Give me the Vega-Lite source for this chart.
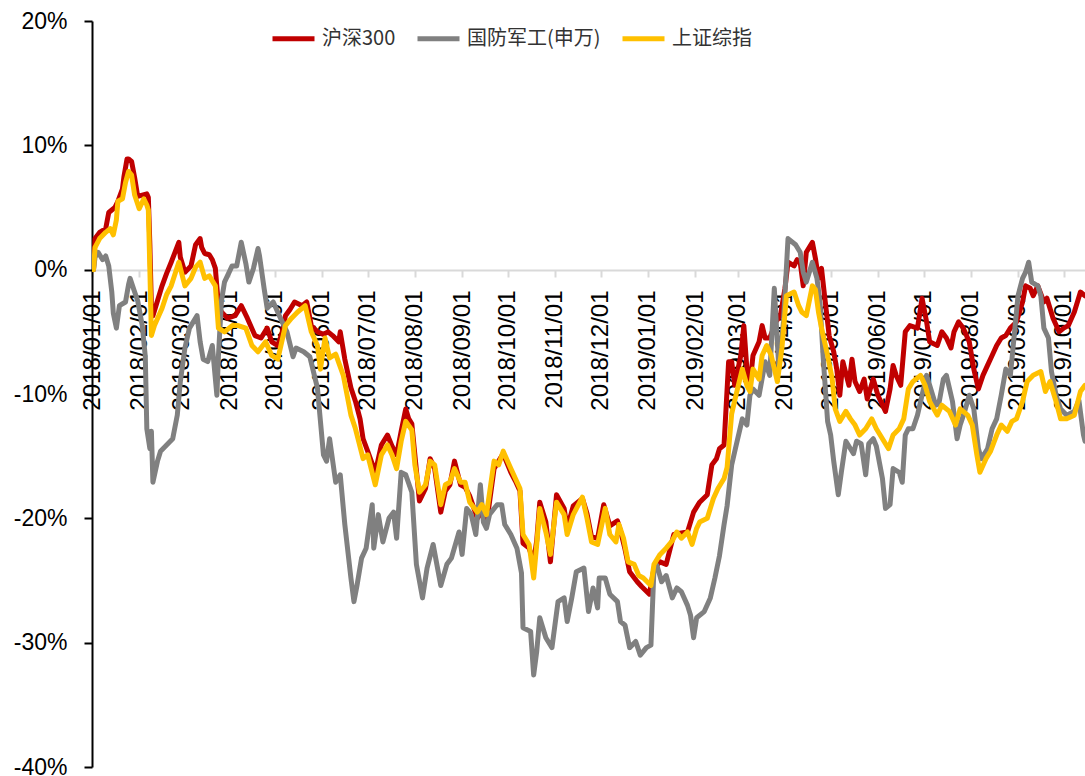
{
"$schema":"https://vega.github.io/schema/vega-lite/v6.json",
"width":993,"height":746,
"autosize":{"type":"none"},
"padding":{"left":92,"top":21,"right":0,"bottom":9},
"background":"white",
"config":{"view":{"stroke":null},"font":"Liberation Sans"},
"data":{"values":[
{"s":"沪深300","d":"2018-01-02","v":0},{"s":"沪深300","d":"2018-01-03","v":2.5},{"s":"沪深300","d":"2018-01-06","v":3.0},{"s":"沪深300","d":"2018-01-10","v":3.3},{"s":"沪深300","d":"2018-01-12","v":4.6},{"s":"沪深300","d":"2018-01-14","v":4.8},{"s":"沪深300","d":"2018-01-16","v":5.0},{"s":"沪深300","d":"2018-01-18","v":5.5},{"s":"沪深300","d":"2018-01-21","v":6.5},{"s":"沪深300","d":"2018-01-22","v":7.5},{"s":"沪深300","d":"2018-01-24","v":8.9},{"s":"沪深300","d":"2018-01-25","v":8.9},{"s":"沪深300","d":"2018-01-27","v":8.7},{"s":"沪深300","d":"2018-01-29","v":7.4},{"s":"沪深300","d":"2018-01-31","v":5.9},{"s":"沪深300","d":"2018-02-03","v":6.0},{"s":"沪深300","d":"2018-02-06","v":6.1},{"s":"沪深300","d":"2018-02-07","v":5.8},{"s":"沪深300","d":"2018-02-08","v":2.0},{"s":"沪深300","d":"2018-02-09","v":-3.0},{"s":"沪深300","d":"2018-02-10","v":-3.7},{"s":"沪深300","d":"2018-02-16","v":-1.3},{"s":"沪深300","d":"2018-02-19","v":-0.3},{"s":"沪深300","d":"2018-02-22","v":0.6},{"s":"沪深300","d":"2018-02-27","v":2.2},{"s":"沪深300","d":"2018-02-28","v":1.0},{"s":"沪深300","d":"2018-03-03","v":-0.2},{"s":"沪深300","d":"2018-03-07","v":0.3},{"s":"沪深300","d":"2018-03-10","v":2.0},{"s":"沪深300","d":"2018-03-13","v":2.5},{"s":"沪深300","d":"2018-03-14","v":1.8},{"s":"沪深300","d":"2018-03-16","v":1.3},{"s":"沪深300","d":"2018-03-19","v":1.2},{"s":"沪深300","d":"2018-03-21","v":0.8},{"s":"沪深300","d":"2018-03-23","v":0.1},{"s":"沪深300","d":"2018-03-25","v":-2.9},{"s":"沪深300","d":"2018-03-27","v":-3.4},{"s":"沪深300","d":"2018-03-31","v":-3.9},{"s":"沪深300","d":"2018-04-05","v":-3.7},{"s":"沪深300","d":"2018-04-09","v":-2.9},{"s":"沪深300","d":"2018-04-13","v":-3.9},{"s":"沪深300","d":"2018-04-18","v":-5.3},{"s":"沪深300","d":"2018-04-22","v":-5.5},{"s":"沪深300","d":"2018-04-26","v":-4.7},{"s":"沪深300","d":"2018-04-29","v":-5.8},{"s":"沪深300","d":"2018-05-03","v":-6.1},{"s":"沪深300","d":"2018-05-06","v":-5.0},{"s":"沪深300","d":"2018-05-08","v":-3.7},{"s":"沪深300","d":"2018-05-11","v":-3.2},{"s":"沪深300","d":"2018-05-14","v":-2.6},{"s":"沪深300","d":"2018-05-19","v":-2.9},{"s":"沪深300","d":"2018-05-22","v":-2.6},{"s":"沪深300","d":"2018-05-25","v":-4.5},{"s":"沪深300","d":"2018-05-29","v":-5.0},{"s":"沪深300","d":"2018-06-02","v":-5.2},{"s":"沪深300","d":"2018-06-05","v":-5.0},{"s":"沪深300","d":"2018-06-08","v":-5.3},{"s":"沪深300","d":"2018-06-12","v":-5.8},{"s":"沪深300","d":"2018-06-13","v":-5.0},{"s":"沪深300","d":"2018-06-16","v":-7.2},{"s":"沪深300","d":"2018-06-20","v":-9.5},{"s":"沪深300","d":"2018-06-23","v":-10.6},{"s":"沪深300","d":"2018-06-26","v":-12.0},{"s":"沪深300","d":"2018-06-28","v":-13.6},{"s":"沪深300","d":"2018-07-01","v":-14.6},{"s":"沪深300","d":"2018-07-06","v":-16.3},{"s":"沪深300","d":"2018-07-10","v":-14.1},{"s":"沪深300","d":"2018-07-14","v":-13.3},{"s":"沪深300","d":"2018-07-17","v":-14.2},{"s":"沪深300","d":"2018-07-20","v":-14.9},{"s":"沪深300","d":"2018-07-23","v":-13.0},{"s":"沪深300","d":"2018-07-26","v":-11.2},{"s":"沪深300","d":"2018-07-28","v":-12.0},{"s":"沪深300","d":"2018-07-30","v":-12.4},{"s":"沪深300","d":"2018-08-01","v":-14.9},{"s":"沪深300","d":"2018-08-04","v":-18.6},{"s":"沪深300","d":"2018-08-08","v":-17.6},{"s":"沪深300","d":"2018-08-11","v":-15.2},{"s":"沪深300","d":"2018-08-14","v":-16.0},{"s":"沪深300","d":"2018-08-18","v":-19.5},{"s":"沪深300","d":"2018-08-21","v":-17.8},{"s":"沪深300","d":"2018-08-24","v":-17.3},{"s":"沪深300","d":"2018-08-27","v":-15.4},{"s":"沪深300","d":"2018-08-31","v":-17.3},{"s":"沪深300","d":"2018-09-03","v":-17.5},{"s":"沪深300","d":"2018-09-06","v":-18.2},{"s":"沪深300","d":"2018-09-11","v":-20.0},{"s":"沪深300","d":"2018-09-14","v":-19.5},{"s":"沪深300","d":"2018-09-17","v":-20.5},{"s":"沪深300","d":"2018-09-22","v":-16.0},{"s":"沪深300","d":"2018-09-25","v":-15.4},{"s":"沪深300","d":"2018-09-28","v":-14.8},{"s":"沪深300","d":"2018-10-03","v":-16.3},{"s":"沪深300","d":"2018-10-06","v":-17.0},{"s":"沪深300","d":"2018-10-09","v":-17.8},{"s":"沪深300","d":"2018-10-11","v":-22.0},{"s":"沪深300","d":"2018-10-15","v":-22.4},{"s":"沪深300","d":"2018-10-18","v":-23.5},{"s":"沪深300","d":"2018-10-20","v":-21.8},{"s":"沪深300","d":"2018-10-22","v":-18.7},{"s":"沪深300","d":"2018-10-26","v":-20.3},{"s":"沪深300","d":"2018-10-29","v":-23.5},{"s":"沪深300","d":"2018-11-02","v":-18.1},{"s":"沪深300","d":"2018-11-07","v":-19.2},{"s":"沪深300","d":"2018-11-09","v":-20.8},{"s":"沪深300","d":"2018-11-13","v":-19.0},{"s":"沪深300","d":"2018-11-19","v":-18.4},{"s":"沪深300","d":"2018-11-22","v":-19.6},{"s":"沪深300","d":"2018-11-25","v":-21.5},{"s":"沪深300","d":"2018-11-29","v":-21.6},{"s":"沪深300","d":"2018-12-03","v":-18.9},{"s":"沪深300","d":"2018-12-07","v":-20.6},{"s":"沪深300","d":"2018-12-12","v":-20.2},{"s":"沪深300","d":"2018-12-14","v":-21.0},{"s":"沪深300","d":"2018-12-17","v":-22.5},{"s":"沪深300","d":"2018-12-20","v":-24.3},{"s":"沪深300","d":"2018-12-25","v":-25.1},{"s":"沪深300","d":"2018-12-28","v":-25.5},{"s":"沪深300","d":"2019-01-02","v":-26.1},{"s":"沪深300","d":"2019-01-05","v":-24.0},{"s":"沪深300","d":"2019-01-09","v":-23.5},{"s":"沪深300","d":"2019-01-13","v":-23.7},{"s":"沪深300","d":"2019-01-18","v":-21.3},{"s":"沪深300","d":"2019-01-22","v":-21.2},{"s":"沪深300","d":"2019-01-27","v":-21.1},{"s":"沪深300","d":"2019-01-31","v":-19.5},{"s":"沪深300","d":"2019-02-04","v":-18.7},{"s":"沪深300","d":"2019-02-09","v":-18.1},{"s":"沪深300","d":"2019-02-12","v":-15.7},{"s":"沪深300","d":"2019-02-15","v":-15.2},{"s":"沪深300","d":"2019-02-17","v":-14.4},{"s":"沪深300","d":"2019-02-20","v":-14.1},{"s":"沪深300","d":"2019-02-23","v":-7.4},{"s":"沪深300","d":"2019-02-25","v":-7.4},{"s":"沪深300","d":"2019-02-27","v":-9.3},{"s":"沪深300","d":"2019-03-03","v":-6.9},{"s":"沪深300","d":"2019-03-05","v":-4.5},{"s":"沪深300","d":"2019-03-07","v":-8.0},{"s":"沪深300","d":"2019-03-09","v":-9.3},{"s":"沪深300","d":"2019-03-11","v":-6.9},{"s":"沪深300","d":"2019-03-15","v":-5.8},{"s":"沪深300","d":"2019-03-17","v":-4.5},{"s":"沪深300","d":"2019-03-19","v":-5.5},{"s":"沪深300","d":"2019-03-22","v":-5.5},{"s":"沪深300","d":"2019-03-26","v":-4.2},{"s":"沪深300","d":"2019-03-29","v":-3.7},{"s":"沪深300","d":"2019-04-01","v":-1.5},{"s":"沪深300","d":"2019-04-03","v":0.6},{"s":"沪深300","d":"2019-04-07","v":0.3},{"s":"沪深300","d":"2019-04-09","v":0.8},{"s":"沪深300","d":"2019-04-11","v":0.6},{"s":"沪深300","d":"2019-04-13","v":-1.3},{"s":"沪深300","d":"2019-04-15","v":1.4},{"s":"沪深300","d":"2019-04-19","v":2.2},{"s":"沪深300","d":"2019-04-21","v":0.9},{"s":"沪深300","d":"2019-04-23","v":-0.7},{"s":"沪深300","d":"2019-04-25","v":0.1},{"s":"沪深300","d":"2019-04-27","v":-2.1},{"s":"沪深300","d":"2019-04-30","v":-5.3},{"s":"沪深300","d":"2019-05-03","v":-6.6},{"s":"沪深300","d":"2019-05-05","v":-8.0},{"s":"沪深300","d":"2019-05-07","v":-10.1},{"s":"沪深300","d":"2019-05-09","v":-7.4},{"s":"沪深300","d":"2019-05-13","v":-9.3},{"s":"沪深300","d":"2019-05-15","v":-7.2},{"s":"沪深300","d":"2019-05-17","v":-9.0},{"s":"沪深300","d":"2019-05-20","v":-9.8},{"s":"沪深300","d":"2019-05-23","v":-8.8},{"s":"沪深300","d":"2019-05-25","v":-10.4},{"s":"沪深300","d":"2019-05-29","v":-8.8},{"s":"沪深300","d":"2019-06-01","v":-10.1},{"s":"沪深300","d":"2019-06-06","v":-11.4},{"s":"沪深300","d":"2019-06-09","v":-9.6},{"s":"沪深300","d":"2019-06-11","v":-7.7},{"s":"沪深300","d":"2019-06-13","v":-8.5},{"s":"沪深300","d":"2019-06-16","v":-9.3},{"s":"沪深300","d":"2019-06-19","v":-5.0},{"s":"沪深300","d":"2019-06-22","v":-4.5},{"s":"沪深300","d":"2019-06-27","v":-4.7},{"s":"沪深300","d":"2019-06-30","v":-2.3},{"s":"沪深300","d":"2019-07-03","v":-4.2},{"s":"沪深300","d":"2019-07-05","v":-5.8},{"s":"沪深300","d":"2019-07-10","v":-6.1},{"s":"沪深300","d":"2019-07-13","v":-5.0},{"s":"沪深300","d":"2019-07-16","v":-5.5},{"s":"沪深300","d":"2019-07-19","v":-6.3},{"s":"沪深300","d":"2019-07-21","v":-5.0},{"s":"沪深300","d":"2019-07-24","v":-4.2},{"s":"沪深300","d":"2019-07-27","v":-4.7},{"s":"沪深300","d":"2019-07-31","v":-5.8},{"s":"沪深300","d":"2019-08-03","v":-8.0},{"s":"沪深300","d":"2019-08-06","v":-9.6},{"s":"沪深300","d":"2019-08-09","v":-8.5},{"s":"沪深300","d":"2019-08-12","v":-7.7},{"s":"沪深300","d":"2019-08-15","v":-6.9},{"s":"沪深300","d":"2019-08-18","v":-6.1},{"s":"沪深300","d":"2019-08-21","v":-5.5},{"s":"沪深300","d":"2019-08-24","v":-5.3},{"s":"沪深300","d":"2019-08-27","v":-4.7},{"s":"沪深300","d":"2019-08-31","v":-4.2},{"s":"沪深300","d":"2019-09-04","v":-2.6},{"s":"沪深300","d":"2019-09-06","v":-1.3},{"s":"沪深300","d":"2019-09-09","v":-1.5},{"s":"沪深300","d":"2019-09-11","v":-2.1},{"s":"沪深300","d":"2019-09-14","v":-1.3},{"s":"沪深300","d":"2019-09-18","v":-2.6},{"s":"沪深300","d":"2019-09-20","v":-2.3},{"s":"沪深300","d":"2019-09-24","v":-3.9},{"s":"沪深300","d":"2019-09-28","v":-5.0},{"s":"沪深300","d":"2019-10-01","v":-4.7},{"s":"沪深300","d":"2019-10-04","v":-4.5},{"s":"沪深300","d":"2019-10-08","v":-3.4},{"s":"沪深300","d":"2019-10-12","v":-1.8},{"s":"沪深300","d":"2019-10-15","v":-2.1},
{"s":"国防军工(申万)","d":"2018-01-02","v":0},{"s":"国防军工(申万)","d":"2018-01-03","v":1.0},{"s":"国防军工(申万)","d":"2018-01-05","v":1.4},{"s":"国防军工(申万)","d":"2018-01-08","v":0.8},{"s":"国防军工(申万)","d":"2018-01-10","v":1.1},{"s":"国防军工(申万)","d":"2018-01-12","v":0.3},{"s":"国防军工(申万)","d":"2018-01-14","v":-1.8},{"s":"国防军工(申万)","d":"2018-01-15","v":-3.5},{"s":"国防军工(申万)","d":"2018-01-17","v":-4.7},{"s":"国防军工(申万)","d":"2018-01-19","v":-2.9},{"s":"国防军工(申万)","d":"2018-01-23","v":-2.6},{"s":"国防军工(申万)","d":"2018-01-25","v":-1.2},{"s":"国防军工(申万)","d":"2018-01-26","v":-0.7},{"s":"国防军工(申万)","d":"2018-01-29","v":-1.8},{"s":"国防军工(申万)","d":"2018-01-31","v":-2.5},{"s":"国防军工(申万)","d":"2018-02-03","v":-4.5},{"s":"国防军工(申万)","d":"2018-02-05","v":-7.0},{"s":"国防军工(申万)","d":"2018-02-06","v":-12.8},{"s":"国防军工(申万)","d":"2018-02-08","v":-14.4},{"s":"国防军工(申万)","d":"2018-02-09","v":-13.0},{"s":"国防军工(申万)","d":"2018-02-10","v":-17.1},{"s":"国防军工(申万)","d":"2018-02-13","v":-15.4},{"s":"国防军工(申万)","d":"2018-02-15","v":-14.6},{"s":"国防军工(申万)","d":"2018-02-19","v":-14.1},{"s":"国防军工(申万)","d":"2018-02-23","v":-13.6},{"s":"国防军工(申万)","d":"2018-02-26","v":-11.7},{"s":"国防军工(申万)","d":"2018-02-28","v":-9.0},{"s":"国防军工(申万)","d":"2018-03-03","v":-6.3},{"s":"国防军工(申万)","d":"2018-03-06","v":-4.7},{"s":"国防军工(申万)","d":"2018-03-11","v":-3.7},{"s":"国防军工(申万)","d":"2018-03-13","v":-5.8},{"s":"国防军工(申万)","d":"2018-03-15","v":-7.2},{"s":"国防军工(申万)","d":"2018-03-18","v":-7.4},{"s":"国防军工(申万)","d":"2018-03-21","v":-6.1},{"s":"国防军工(申万)","d":"2018-03-24","v":-10.1},{"s":"国防军工(申万)","d":"2018-03-25","v":-7.0},{"s":"国防军工(申万)","d":"2018-03-27","v":-2.5},{"s":"国防军工(申万)","d":"2018-03-29","v":-1.0},{"s":"国防军工(申万)","d":"2018-04-03","v":0.3},{"s":"国防军工(申万)","d":"2018-04-06","v":0.3},{"s":"国防军工(申万)","d":"2018-04-09","v":2.2},{"s":"国防军工(申万)","d":"2018-04-12","v":0.5},{"s":"国防军工(申万)","d":"2018-04-14","v":-1.0},{"s":"国防军工(申万)","d":"2018-04-17","v":0.1},{"s":"国防军工(申万)","d":"2018-04-20","v":1.7},{"s":"国防军工(申万)","d":"2018-04-21","v":1.1},{"s":"国防军工(申万)","d":"2018-04-24","v":-1.5},{"s":"国防军工(申万)","d":"2018-04-26","v":-3.1},{"s":"国防军工(申万)","d":"2018-04-30","v":-2.6},{"s":"国防军工(申万)","d":"2018-05-04","v":-3.7},{"s":"国防军工(申万)","d":"2018-05-09","v":-5.0},{"s":"国防军工(申万)","d":"2018-05-13","v":-7.0},{"s":"国防军工(申万)","d":"2018-05-15","v":-6.3},{"s":"国防军工(申万)","d":"2018-05-20","v":-6.6},{"s":"国防军工(申万)","d":"2018-05-24","v":-7.0},{"s":"国防军工(申万)","d":"2018-05-29","v":-9.5},{"s":"国防军工(申万)","d":"2018-05-31","v":-12.2},{"s":"国防军工(申万)","d":"2018-06-02","v":-14.9},{"s":"国防军工(申万)","d":"2018-06-04","v":-15.4},{"s":"国防军工(申万)","d":"2018-06-06","v":-13.6},{"s":"国防军工(申万)","d":"2018-06-10","v":-17.1},{"s":"国防军工(申万)","d":"2018-06-13","v":-16.5},{"s":"国防军工(申万)","d":"2018-06-16","v":-20.5},{"s":"国防军工(申万)","d":"2018-06-20","v":-24.8},{"s":"国防军工(申万)","d":"2018-06-22","v":-26.7},{"s":"国防军工(申万)","d":"2018-06-24","v":-25.4},{"s":"国防军工(申万)","d":"2018-06-27","v":-23.2},{"s":"国防军工(申万)","d":"2018-06-30","v":-22.4},{"s":"国防军工(申万)","d":"2018-07-04","v":-18.9},{"s":"国防军工(申万)","d":"2018-07-05","v":-22.4},{"s":"国防军工(申万)","d":"2018-07-08","v":-19.7},{"s":"国防军工(申万)","d":"2018-07-11","v":-21.9},{"s":"国防军工(申万)","d":"2018-07-15","v":-20.0},{"s":"国防军工(申万)","d":"2018-07-18","v":-19.5},{"s":"国防军工(申万)","d":"2018-07-20","v":-21.6},{"s":"国防军工(申万)","d":"2018-07-23","v":-16.3},{"s":"国防军工(申万)","d":"2018-07-26","v":-16.5},{"s":"国防军工(申万)","d":"2018-07-30","v":-17.9},{"s":"国防军工(申万)","d":"2018-08-02","v":-23.7},{"s":"国防军工(申万)","d":"2018-08-06","v":-26.4},{"s":"国防军工(申万)","d":"2018-08-09","v":-24.0},{"s":"国防军工(申万)","d":"2018-08-13","v":-22.1},{"s":"国防军工(申万)","d":"2018-08-18","v":-25.4},{"s":"国防军工(申万)","d":"2018-08-22","v":-23.7},{"s":"国防军工(申万)","d":"2018-08-25","v":-23.2},{"s":"国防军工(申万)","d":"2018-08-30","v":-21.1},{"s":"国防军工(申万)","d":"2018-09-01","v":-22.9},{"s":"国防军工(申万)","d":"2018-09-04","v":-19.2},{"s":"国防军工(申万)","d":"2018-09-07","v":-19.7},{"s":"国防军工(申万)","d":"2018-09-10","v":-21.3},{"s":"国防军工(申万)","d":"2018-09-13","v":-17.3},{"s":"国防军工(申万)","d":"2018-09-15","v":-20.3},{"s":"国防军工(申万)","d":"2018-09-17","v":-20.8},{"s":"国防军工(申万)","d":"2018-09-19","v":-19.7},{"s":"国防军工(申万)","d":"2018-09-24","v":-18.9},{"s":"国防军工(申万)","d":"2018-09-27","v":-18.9},{"s":"国防军工(申万)","d":"2018-09-29","v":-20.5},{"s":"国防军工(申万)","d":"2018-10-03","v":-21.3},{"s":"国防军工(申万)","d":"2018-10-07","v":-22.4},{"s":"国防军工(申万)","d":"2018-10-10","v":-24.4},{"s":"国防军工(申万)","d":"2018-10-11","v":-28.8},{"s":"国防军工(申万)","d":"2018-10-16","v":-29.1},{"s":"国防军工(申万)","d":"2018-10-18","v":-32.6},{"s":"国防军工(申万)","d":"2018-10-20","v":-30.7},{"s":"国防军工(申万)","d":"2018-10-22","v":-28.0},{"s":"国防军工(申万)","d":"2018-10-26","v":-29.6},{"s":"国防军工(申万)","d":"2018-10-30","v":-30.4},{"s":"国防军工(申万)","d":"2018-11-03","v":-26.7},{"s":"国防军工(申万)","d":"2018-11-07","v":-26.4},{"s":"国防军工(申万)","d":"2018-11-09","v":-28.3},{"s":"国防军工(申万)","d":"2018-11-12","v":-26.4},{"s":"国防军工(申万)","d":"2018-11-15","v":-24.3},{"s":"国防军工(申万)","d":"2018-11-20","v":-24.0},{"s":"国防军工(申万)","d":"2018-11-23","v":-27.5},{"s":"国防军工(申万)","d":"2018-11-26","v":-25.6},{"s":"国防军工(申万)","d":"2018-11-29","v":-27.2},{"s":"国防军工(申万)","d":"2018-11-30","v":-24.8},{"s":"国防军工(申万)","d":"2018-12-04","v":-24.8},{"s":"国防军工(申万)","d":"2018-12-07","v":-26.1},{"s":"国防军工(申万)","d":"2018-12-12","v":-26.7},{"s":"国防军工(申万)","d":"2018-12-14","v":-28.3},{"s":"国防军工(申万)","d":"2018-12-17","v":-28.6},{"s":"国防军工(申万)","d":"2018-12-20","v":-30.4},{"s":"国防军工(申万)","d":"2018-12-24","v":-29.9},{"s":"国防军工(申万)","d":"2018-12-27","v":-31.0},{"s":"国防军工(申万)","d":"2018-12-31","v":-30.4},{"s":"国防军工(申万)","d":"2019-01-03","v":-30.2},{"s":"国防军工(申万)","d":"2019-01-05","v":-24.0},{"s":"国防军工(申万)","d":"2019-01-07","v":-23.8},{"s":"国防军工(申万)","d":"2019-01-10","v":-25.1},{"s":"国防军工(申万)","d":"2019-01-13","v":-24.6},{"s":"国防军工(申万)","d":"2019-01-17","v":-26.4},{"s":"国防军工(申万)","d":"2019-01-20","v":-25.6},{"s":"国防军工(申万)","d":"2019-01-23","v":-25.9},{"s":"国防军工(申万)","d":"2019-01-27","v":-27.0},{"s":"国防军工(申万)","d":"2019-01-29","v":-27.8},{"s":"国防军工(申万)","d":"2019-01-31","v":-29.6},{"s":"国防军工(申万)","d":"2019-02-02","v":-28.0},{"s":"国防军工(申万)","d":"2019-02-07","v":-27.5},{"s":"国防军工(申万)","d":"2019-02-11","v":-26.4},{"s":"国防军工(申万)","d":"2019-02-14","v":-24.8},{"s":"国防军工(申万)","d":"2019-02-17","v":-23.0},{"s":"国防军工(申万)","d":"2019-02-20","v":-20.5},{"s":"国防军工(申万)","d":"2019-02-22","v":-19.0},{"s":"国防军工(申万)","d":"2019-02-25","v":-15.7},{"s":"国防军工(申万)","d":"2019-02-28","v":-14.1},{"s":"国防军工(申万)","d":"2019-03-04","v":-12.0},{"s":"国防军工(申万)","d":"2019-03-07","v":-12.5},{"s":"国防军工(申万)","d":"2019-03-09","v":-10.1},{"s":"国防军工(申万)","d":"2019-03-11","v":-9.6},{"s":"国防军工(申万)","d":"2019-03-15","v":-10.1},{"s":"国防军工(申万)","d":"2019-03-19","v":-7.4},{"s":"国防军工(申万)","d":"2019-03-22","v":-8.5},{"s":"国防军工(申万)","d":"2019-03-25","v":-1.5},{"s":"国防军工(申万)","d":"2019-03-28","v":-8.0},{"s":"国防军工(申万)","d":"2019-03-31","v":-4.2},{"s":"国防军工(申万)","d":"2019-04-03","v":2.5},{"s":"国防军工(申万)","d":"2019-04-08","v":2.0},{"s":"国防军工(申万)","d":"2019-04-11","v":1.4},{"s":"国防军工(申万)","d":"2019-04-13","v":-0.2},{"s":"国防军工(申万)","d":"2019-04-15","v":-1.0},{"s":"国防军工(申万)","d":"2019-04-19","v":0.6},{"s":"国防军工(申万)","d":"2019-04-22","v":-0.7},{"s":"国防军工(申万)","d":"2019-04-24","v":-2.6},{"s":"国防军工(申万)","d":"2019-04-26","v":-6.9},{"s":"国防军工(申万)","d":"2019-04-29","v":-12.2},{"s":"国防军工(申万)","d":"2019-05-01","v":-13.3},{"s":"国防军工(申万)","d":"2019-05-03","v":-15.4},{"s":"国防军工(申万)","d":"2019-05-06","v":-18.1},{"s":"国防军工(申万)","d":"2019-05-08","v":-16.3},{"s":"国防军工(申万)","d":"2019-05-11","v":-13.8},{"s":"国防军工(申万)","d":"2019-05-14","v":-14.4},{"s":"国防军工(申万)","d":"2019-05-16","v":-14.8},{"s":"国防军工(申万)","d":"2019-05-18","v":-13.8},{"s":"国防军工(申万)","d":"2019-05-21","v":-14.0},{"s":"国防军工(申万)","d":"2019-05-24","v":-16.5},{"s":"国防军工(申万)","d":"2019-05-26","v":-14.0},{"s":"国防军工(申万)","d":"2019-05-29","v":-13.6},{"s":"国防军工(申万)","d":"2019-05-31","v":-14.2},{"s":"国防军工(申万)","d":"2019-06-04","v":-16.8},{"s":"国防军工(申万)","d":"2019-06-06","v":-19.2},{"s":"国防军工(申万)","d":"2019-06-09","v":-18.9},{"s":"国防军工(申万)","d":"2019-06-11","v":-16.0},{"s":"国防军工(申万)","d":"2019-06-15","v":-16.3},{"s":"国防军工(申万)","d":"2019-06-17","v":-17.1},{"s":"国防军工(申万)","d":"2019-06-19","v":-13.3},{"s":"国防军工(申万)","d":"2019-06-21","v":-12.8},{"s":"国防军工(申万)","d":"2019-06-24","v":-12.8},{"s":"国防军工(申万)","d":"2019-06-27","v":-11.7},{"s":"国防军工(申万)","d":"2019-06-30","v":-10.1},{"s":"国防军工(申万)","d":"2019-07-03","v":-8.5},{"s":"国防军工(申万)","d":"2019-07-05","v":-9.3},{"s":"国防军工(申万)","d":"2019-07-09","v":-10.9},{"s":"国防军工(申万)","d":"2019-07-11","v":-10.8},{"s":"国防军工(申万)","d":"2019-07-14","v":-8.8},{"s":"国防军工(申万)","d":"2019-07-16","v":-8.5},{"s":"国防军工(申万)","d":"2019-07-20","v":-10.6},{"s":"国防军工(申万)","d":"2019-07-23","v":-13.6},{"s":"国防军工(申万)","d":"2019-07-25","v":-12.5},{"s":"国防军工(申万)","d":"2019-07-28","v":-11.4},{"s":"国防军工(申万)","d":"2019-07-31","v":-10.1},{"s":"国防军工(申万)","d":"2019-08-03","v":-11.2},{"s":"国防军工(申万)","d":"2019-08-06","v":-14.4},{"s":"国防军工(申万)","d":"2019-08-08","v":-15.2},{"s":"国防军工(申万)","d":"2019-08-12","v":-14.4},{"s":"国防军工(申万)","d":"2019-08-15","v":-12.8},{"s":"国防军工(申万)","d":"2019-08-18","v":-12.0},{"s":"国防军工(申万)","d":"2019-08-21","v":-10.1},{"s":"国防军工(申万)","d":"2019-08-24","v":-8.0},{"s":"国防军工(申万)","d":"2019-08-27","v":-8.5},{"s":"国防军工(申万)","d":"2019-08-30","v":-4.7},{"s":"国防军工(申万)","d":"2019-09-01","v":-2.1},{"s":"国防军工(申万)","d":"2019-09-04","v":-0.7},{"s":"国防军工(申万)","d":"2019-09-06","v":-0.2},{"s":"国防军工(申万)","d":"2019-09-08","v":0.6},{"s":"国防军工(申万)","d":"2019-09-10","v":-1.0},{"s":"国防军工(申万)","d":"2019-09-14","v":-1.3},{"s":"国防军工(申万)","d":"2019-09-16","v":-2.1},{"s":"国防军工(申万)","d":"2019-09-18","v":-4.7},{"s":"国防军工(申万)","d":"2019-09-21","v":-5.5},{"s":"国防军工(申万)","d":"2019-09-23","v":-8.2},{"s":"国防军工(申万)","d":"2019-09-26","v":-10.1},{"s":"国防军工(申万)","d":"2019-09-29","v":-11.2},{"s":"国防军工(申万)","d":"2019-10-03","v":-11.7},{"s":"国防军工(申万)","d":"2019-10-08","v":-11.4},{"s":"国防军工(申万)","d":"2019-10-11","v":-10.5},{"s":"国防军工(申万)","d":"2019-10-14","v":-13.3},{"s":"国防军工(申万)","d":"2019-10-15","v":-13.8},
{"s":"上证综指","d":"2018-01-02","v":0},{"s":"上证综指","d":"2018-01-03","v":1.8},{"s":"上证综指","d":"2018-01-06","v":2.5},{"s":"上证综指","d":"2018-01-10","v":3.0},{"s":"上证综指","d":"2018-01-13","v":3.3},{"s":"上证综指","d":"2018-01-15","v":2.8},{"s":"上证综指","d":"2018-01-17","v":4.0},{"s":"上证综指","d":"2018-01-18","v":5.5},{"s":"上证综指","d":"2018-01-21","v":5.7},{"s":"上证综指","d":"2018-01-23","v":7.0},{"s":"上证综指","d":"2018-01-25","v":7.9},{"s":"上证综指","d":"2018-01-27","v":7.6},{"s":"上证综指","d":"2018-01-29","v":6.0},{"s":"上证综指","d":"2018-02-01","v":4.9},{"s":"上证综指","d":"2018-02-04","v":5.7},{"s":"上证综指","d":"2018-02-06","v":5.2},{"s":"上证综指","d":"2018-02-07","v":4.8},{"s":"上证综指","d":"2018-02-08","v":0},{"s":"上证综指","d":"2018-02-09","v":-5.3},{"s":"上证综指","d":"2018-02-11","v":-4.5},{"s":"上证综指","d":"2018-02-16","v":-3.1},{"s":"上证综指","d":"2018-02-19","v":-2.0},{"s":"上证综指","d":"2018-02-22","v":-1.3},{"s":"上证综指","d":"2018-02-27","v":0.6},{"s":"上证综指","d":"2018-03-03","v":-1.3},{"s":"上证综指","d":"2018-03-07","v":-0.7},{"s":"上证综指","d":"2018-03-10","v":0.2},{"s":"上证综指","d":"2018-03-13","v":0.6},{"s":"上证综指","d":"2018-03-16","v":-0.7},{"s":"上证综指","d":"2018-03-19","v":-0.5},{"s":"上证综指","d":"2018-03-23","v":-1.3},{"s":"上证综指","d":"2018-03-25","v":-4.7},{"s":"上证综指","d":"2018-03-29","v":-5.0},{"s":"上证综指","d":"2018-04-03","v":-4.5},{"s":"上证综指","d":"2018-04-07","v":-4.5},{"s":"上证综指","d":"2018-04-12","v":-4.7},{"s":"上证综指","d":"2018-04-16","v":-6.1},{"s":"上证综指","d":"2018-04-20","v":-6.6},{"s":"上证综指","d":"2018-04-25","v":-5.8},{"s":"上证综指","d":"2018-04-29","v":-6.9},{"s":"上证综指","d":"2018-05-03","v":-7.2},{"s":"上证综指","d":"2018-05-08","v":-4.5},{"s":"上证综指","d":"2018-05-12","v":-3.9},{"s":"上证综指","d":"2018-05-16","v":-3.4},{"s":"上证综指","d":"2018-05-21","v":-2.9},{"s":"上证综指","d":"2018-05-25","v":-5.0},{"s":"上证综指","d":"2018-05-29","v":-6.1},{"s":"上证综指","d":"2018-05-31","v":-8.0},{"s":"上证综指","d":"2018-06-03","v":-5.5},{"s":"上证综指","d":"2018-06-06","v":-7.1},{"s":"上证综指","d":"2018-06-10","v":-6.8},{"s":"上证综指","d":"2018-06-15","v":-8.5},{"s":"上证综指","d":"2018-06-20","v":-11.7},{"s":"上证综指","d":"2018-06-23","v":-12.8},{"s":"上证综指","d":"2018-06-28","v":-15.2},{"s":"上证综指","d":"2018-07-01","v":-14.9},{"s":"上证综指","d":"2018-07-06","v":-17.3},{"s":"上证综指","d":"2018-07-10","v":-14.9},{"s":"上证综指","d":"2018-07-14","v":-14.1},{"s":"上证综指","d":"2018-07-17","v":-14.9},{"s":"上证综指","d":"2018-07-20","v":-16.0},{"s":"上证综指","d":"2018-07-23","v":-13.8},{"s":"上证综指","d":"2018-07-26","v":-12.2},{"s":"上证综指","d":"2018-07-30","v":-12.9},{"s":"上证综指","d":"2018-08-01","v":-15.7},{"s":"上证综指","d":"2018-08-04","v":-17.9},{"s":"上证综指","d":"2018-08-08","v":-17.3},{"s":"上证综指","d":"2018-08-11","v":-15.4},{"s":"上证综指","d":"2018-08-14","v":-15.7},{"s":"上证综指","d":"2018-08-18","v":-18.9},{"s":"上证综指","d":"2018-08-21","v":-17.3},{"s":"上证综指","d":"2018-08-24","v":-17.1},{"s":"上证综指","d":"2018-08-27","v":-16.0},{"s":"上证综指","d":"2018-08-31","v":-17.1},{"s":"上证综指","d":"2018-09-03","v":-17.1},{"s":"上证综指","d":"2018-09-06","v":-18.7},{"s":"上证综指","d":"2018-09-11","v":-19.5},{"s":"上证综指","d":"2018-09-14","v":-18.9},{"s":"上证综指","d":"2018-09-17","v":-19.7},{"s":"上证综指","d":"2018-09-22","v":-15.4},{"s":"上证综指","d":"2018-09-25","v":-15.7},{"s":"上证综指","d":"2018-09-28","v":-14.6},{"s":"上证综指","d":"2018-10-03","v":-16.0},{"s":"上证综指","d":"2018-10-06","v":-16.8},{"s":"上证综指","d":"2018-10-09","v":-17.6},{"s":"上证综指","d":"2018-10-11","v":-21.3},{"s":"上证综指","d":"2018-10-15","v":-22.1},{"s":"上证综指","d":"2018-10-18","v":-24.8},{"s":"上证综指","d":"2018-10-20","v":-22.1},{"s":"上证综指","d":"2018-10-22","v":-19.2},{"s":"上证综指","d":"2018-10-26","v":-21.1},{"s":"上证综指","d":"2018-10-29","v":-22.9},{"s":"上证综指","d":"2018-11-02","v":-18.7},{"s":"上证综指","d":"2018-11-07","v":-19.7},{"s":"上证综指","d":"2018-11-09","v":-21.3},{"s":"上证综指","d":"2018-11-13","v":-19.7},{"s":"上证综指","d":"2018-11-19","v":-18.3},{"s":"上证综指","d":"2018-11-22","v":-20.0},{"s":"上证综指","d":"2018-11-25","v":-21.9},{"s":"上证综指","d":"2018-11-29","v":-22.1},{"s":"上证综指","d":"2018-11-30","v":-21.5},{"s":"上证综指","d":"2018-12-04","v":-19.2},{"s":"上证综指","d":"2018-12-07","v":-21.3},{"s":"上证综指","d":"2018-12-11","v":-21.9},{"s":"上证综指","d":"2018-12-13","v":-20.5},{"s":"上证综指","d":"2018-12-16","v":-21.6},{"s":"上证综指","d":"2018-12-19","v":-23.5},{"s":"上证综指","d":"2018-12-23","v":-23.7},{"s":"上证综指","d":"2018-12-26","v":-24.6},{"s":"上证综指","d":"2018-12-29","v":-24.8},{"s":"上证综指","d":"2019-01-03","v":-25.4},{"s":"上证综指","d":"2019-01-05","v":-23.7},{"s":"上证综指","d":"2019-01-09","v":-22.9},{"s":"上证综指","d":"2019-01-13","v":-22.4},{"s":"上证综指","d":"2019-01-17","v":-21.8},{"s":"上证综指","d":"2019-01-20","v":-21.1},{"s":"上证综指","d":"2019-01-23","v":-21.6},{"s":"上证综指","d":"2019-01-27","v":-21.1},{"s":"上证综指","d":"2019-01-30","v":-22.1},{"s":"上证综指","d":"2019-02-02","v":-20.8},{"s":"上证综指","d":"2019-02-04","v":-20.3},{"s":"上证综指","d":"2019-02-09","v":-20.0},{"s":"上证综指","d":"2019-02-11","v":-19.2},{"s":"上证综指","d":"2019-02-13","v":-18.4},{"s":"上证综指","d":"2019-02-16","v":-17.6},{"s":"上证综指","d":"2019-02-20","v":-16.8},{"s":"上证综指","d":"2019-02-22","v":-15.9},{"s":"上证综指","d":"2019-02-25","v":-11.6},{"s":"上证综指","d":"2019-02-28","v":-10.0},{"s":"上证综指","d":"2019-03-04","v":-8.0},{"s":"上证综指","d":"2019-03-07","v":-9.3},{"s":"上证综指","d":"2019-03-09","v":-9.8},{"s":"上证综指","d":"2019-03-11","v":-8.0},{"s":"上证综指","d":"2019-03-15","v":-8.8},{"s":"上证综指","d":"2019-03-17","v":-6.9},{"s":"上证综指","d":"2019-03-20","v":-6.1},{"s":"上证综指","d":"2019-03-23","v":-6.9},{"s":"上证综指","d":"2019-03-27","v":-9.0},{"s":"上证综指","d":"2019-03-30","v":-6.3},{"s":"上证综指","d":"2019-04-02","v":-2.1},{"s":"上证综指","d":"2019-04-07","v":-1.8},{"s":"上证综指","d":"2019-04-10","v":-2.9},{"s":"上证综指","d":"2019-04-12","v":-3.4},{"s":"上证综指","d":"2019-04-15","v":-3.7},{"s":"上证综指","d":"2019-04-19","v":-1.3},{"s":"上证综指","d":"2019-04-21","v":-1.6},{"s":"上证综指","d":"2019-04-23","v":-3.4},{"s":"上证综指","d":"2019-04-25","v":-4.7},{"s":"上证综指","d":"2019-04-29","v":-6.9},{"s":"上证综指","d":"2019-05-02","v":-8.8},{"s":"上证综指","d":"2019-05-04","v":-11.2},{"s":"上证综指","d":"2019-05-07","v":-12.2},{"s":"上证综指","d":"2019-05-11","v":-11.4},{"s":"上证综指","d":"2019-05-14","v":-12.0},{"s":"上证综指","d":"2019-05-17","v":-12.5},{"s":"上证综指","d":"2019-05-20","v":-13.3},{"s":"上证综指","d":"2019-05-24","v":-12.8},{"s":"上证综指","d":"2019-05-28","v":-12.0},{"s":"上证综指","d":"2019-05-31","v":-12.8},{"s":"上证综指","d":"2019-06-05","v":-13.8},{"s":"上证综指","d":"2019-06-08","v":-14.4},{"s":"上证综指","d":"2019-06-11","v":-13.3},{"s":"上证综指","d":"2019-06-15","v":-12.8},{"s":"上证综指","d":"2019-06-18","v":-12.0},{"s":"上证综指","d":"2019-06-21","v":-9.6},{"s":"上证综指","d":"2019-06-24","v":-9.0},{"s":"上证综指","d":"2019-06-29","v":-8.5},{"s":"上证综指","d":"2019-07-02","v":-9.3},{"s":"上证综指","d":"2019-07-05","v":-10.6},{"s":"上证综指","d":"2019-07-10","v":-11.7},{"s":"上证综指","d":"2019-07-13","v":-10.9},{"s":"上证综指","d":"2019-07-18","v":-11.4},{"s":"上证综指","d":"2019-07-22","v":-12.5},{"s":"上证综指","d":"2019-07-25","v":-11.2},{"s":"上证综指","d":"2019-07-30","v":-11.7},{"s":"上证综指","d":"2019-08-02","v":-12.5},{"s":"上证综指","d":"2019-08-05","v":-14.9},{"s":"上证综指","d":"2019-08-07","v":-16.3},{"s":"上证综指","d":"2019-08-11","v":-15.2},{"s":"上证综指","d":"2019-08-14","v":-14.6},{"s":"上证综指","d":"2019-08-18","v":-13.3},{"s":"上证综指","d":"2019-08-21","v":-12.5},{"s":"上证综指","d":"2019-08-25","v":-13.0},{"s":"上证综指","d":"2019-08-28","v":-12.2},{"s":"上证综指","d":"2019-08-31","v":-12.0},{"s":"上证综指","d":"2019-09-04","v":-10.6},{"s":"上证综指","d":"2019-09-07","v":-9.0},{"s":"上证综指","d":"2019-09-11","v":-8.5},{"s":"上证综指","d":"2019-09-16","v":-8.2},{"s":"上证综指","d":"2019-09-19","v":-9.8},{"s":"上证综指","d":"2019-09-22","v":-9.0},{"s":"上证综指","d":"2019-09-26","v":-10.6},{"s":"上证综指","d":"2019-09-29","v":-12.0},{"s":"上证综指","d":"2019-10-03","v":-12.0},{"s":"上证综指","d":"2019-10-08","v":-11.7},{"s":"上证综指","d":"2019-10-12","v":-9.8},{"s":"上证综指","d":"2019-10-15","v":-9.3}
]},
"mark":{"type":"line","strokeWidth":5,"strokeJoin":"round","strokeCap":"round","clip":true},
"encoding":{
"x":{"field":"d","type":"temporal",
"scale":{"type":"utc","domain":[{"year":2018,"month":1,"date":1,"utc":true},{"year":2019,"month":10,"date":15,"utc":true}]},
"axis":{"title":null,"orient":"bottom","offset":-497,"format":"%Y/%m/%d","tickCount":{"interval":"month","step":1},
"labelAngle":270,"labelAlign":"right","labelBaseline":"middle","labelFontSize":24,"labelColor":"#000","labelFont":"Liberation Sans",
"labelPadding":13,"labelOverlap":false,"labelFlush":false,"labelBound":false,"grid":false,
"domainColor":"#d9d9d9","domainWidth":2,"tickColor":"#d9d9d9","tickWidth":2,"tickSize":7}},
"y":{"field":"v","type":"quantitative",
"scale":{"domain":[-40,20],"nice":false,"zero":false},
"axis":{"title":null,"values":[-40,-30,-20,-10,0,10,20],"labelExpr":"datum.value + '%'","labelFontSize":23,"labelColor":"#000","labelFont":"Liberation Sans",
"labelPadding":17,"grid":false,"domainColor":"#000","domainWidth":2,"tickColor":"#000","tickWidth":2,"tickSize":8}},
"color":{"field":"s","type":"nominal",
"scale":{"domain":["沪深300","国防军工(申万)","上证综指"],"range":["#C00000","#808080","#FFC000"]},
"legend":{"title":null,"orient":"none","legendX":178,"legendY":-6,"direction":"horizontal","symbolType":"stroke","symbolSize":1764,"symbolStrokeWidth":5,
"labelFontSize":20,"labelFont":"Noto Sans CJK SC","labelColor":"#333","columnPadding":11,"labelOffset":5,"padding":0}}
}
}
